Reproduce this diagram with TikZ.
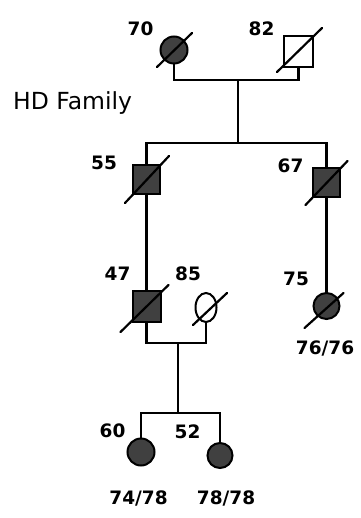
\documentclass[tikz,border=0pt]{standalone}
\usepackage{fontspec}
\setmainfont{DejaVu Sans}
\usetikzlibrary{shapes.geometric,calc}
\definecolor{shade}{HTML}{404040}
\begin{document}
\begin{tikzpicture}[x=1pt,y=-1pt,
  lbl/.style={font=\bfseries\fontsize{18.5}{18.5}\selectfont, inner sep=0pt},
  fem/.style={circle, draw, line width=2pt, minimum size=27pt, inner sep=0pt},
  mal/.style={rectangle, draw, line width=2pt, minimum width=27pt, minimum height=29pt, inner sep=0pt},
  aff/.style={fill=shade},
  link/.style={line width=2.4pt},
  dead/.style={line width=2.2pt, line cap=round}]
\useasboundingbox (0,0) rectangle (360,518);
\fill[white] (0,0) rectangle (360,518);

% generation I
\node[fem,aff] (g1) at (174,50) {};
\node[mal, minimum width=29pt, minimum height=31pt] (g2) at (298.5,52) {};
\coordinate (m1) at (238,80);
\coordinate (s1) at (238,143);
\draw[link] (g1.south) |- (m1) -| (g2.south);
\draw[link] (m1) -- (s1);

% generation II
\node[mal,aff] (p55) at (146.5,180) {};
\node[mal,aff] (p67) at (326.5,182.5) {};
\draw[link] (p55.north) |- (s1) -| (p67.north);

% generation III
\node[mal,aff, minimum width=28pt, minimum height=31pt] (p47) at (146.5,306) {};
\node[fem, ellipse, minimum width=21pt, minimum height=29pt] (p85) at (206,307.5) {};
\node[fem,aff, minimum size=26pt] (p75) at (326.5,306) {};
\draw[link] (p55.south) -- (p47.north);
\draw[link] (p67.south) -- (p75.north);
\coordinate (m2) at (178,343);
\coordinate (s2) at (178,413);
\draw[link] (p47.south) |- (m2) -| (p85.south);
\draw[link] (m2) -- (s2);

% generation IV
\node[fem,aff] (c60) at (141,452) {};
\node[fem,aff, minimum size=25pt] (c52) at (220,455.5) {};
\draw[link] (c60.north) |- (s2) -| (c52.north);

% deceased slashes
\draw[dead] ($(g1)+(-17,17)$) -- ($(g1)+(18,-17)$);
\draw[dead] ($(g2)+(-21.5,20)$) -- ($(g2)+(23.5,-24)$);
\draw[dead] ($(p55)+(-21.5,23)$) -- ($(p55)+(22.5,-24)$);
\draw[dead] ($(p67)+(-21,22.5)$) -- ($(p67)+(21,-21.5)$);
\draw[dead] ($(p47)+(-26,26)$) -- ($(p47)+(22,-21)$);
\draw[dead] ($(p85)+(-13,17.5)$) -- ($(p85)+(21,-14.5)$);
\draw[dead] ($(p75)+(-22,22)$) -- ($(p75)+(17,-13)$);

% labels
\node[font=\fontsize{23.5}{24}\selectfont, anchor=base west, inner sep=0pt] (title) at (13,109.5) {HD Family};
\node[lbl] (l70) at (140.5,28.5) {70};
\node[lbl] (l82) at (261.5,29) {82};
\node[lbl] (l55) at (104,162.5) {55};
\node[lbl] (l67) at (290.5,166) {67};
\node[lbl] (l47) at (117.5,274) {47};
\node[lbl] (l85) at (188,274) {85};
\node[lbl] (l75) at (296,279) {75};
\node[lbl] (g75) at (325,348) {76/76};
\node[lbl] (l60) at (112.5,431) {60};
\node[lbl] (l52) at (187.5,431.5) {52};
\node[lbl] (g60) at (138.5,498.5) {74/78};
\node[lbl] (g52) at (226,498.5) {78/78};
\end{tikzpicture}
\end{document}
